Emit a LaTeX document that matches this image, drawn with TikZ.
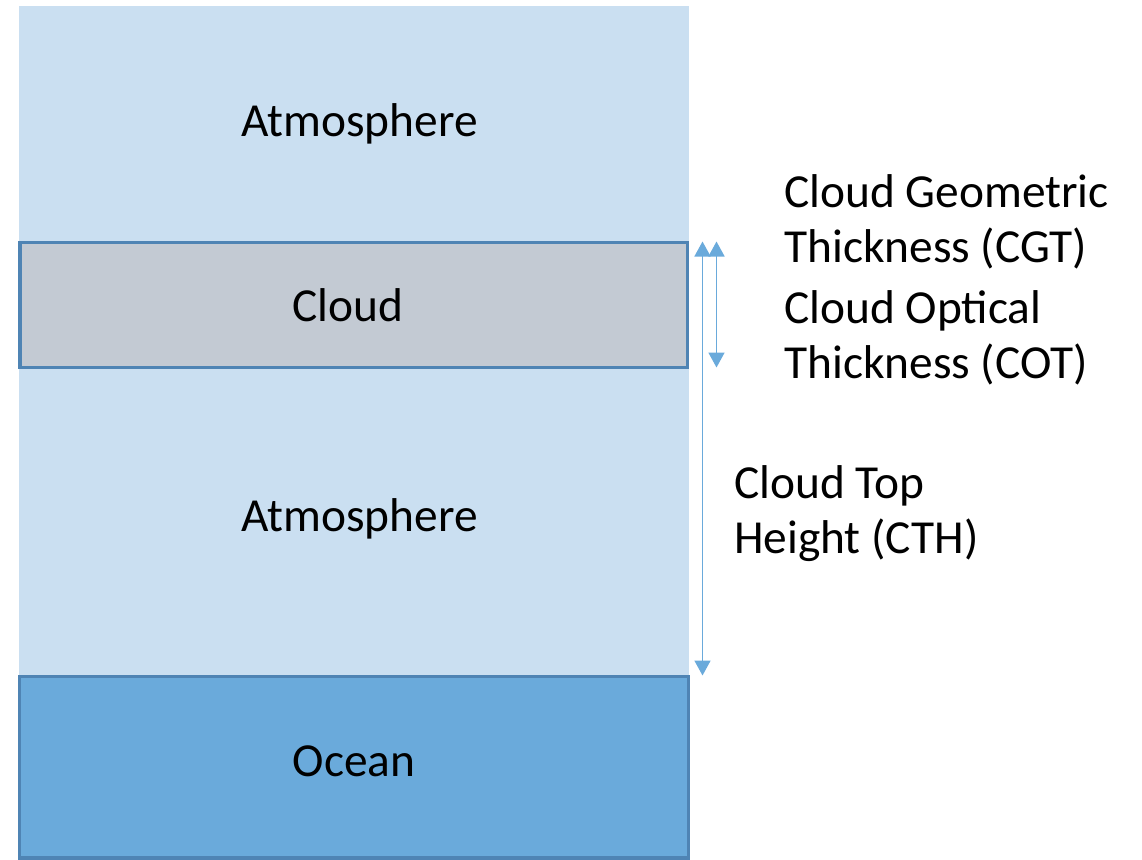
\documentclass[tikz,border=0pt]{standalone}
\usepackage{fontspec}
\setmainfont{Carlito}
\usetikzlibrary{arrows.meta}
\definecolor{atmfill}{HTML}{CADFF1}
\definecolor{cloudfill}{HTML}{C3CAD3}
\definecolor{oceanfill}{HTML}{6AAADB}
\definecolor{boxline}{HTML}{4F84B4}
\definecolor{arrowcol}{HTML}{6AAADB}
\tikzset{
  lbl/.style={font=\fontsize{47.4}{55}\selectfont, inner sep=0pt, anchor=base west, text=black},
  lblc/.style={font=\fontsize{47.4}{55}\selectfont, inner sep=0pt, anchor=base, text=black},
  layer/.style={draw=boxline, line width=3.2pt},
  dim/.style={draw=arrowcol, line width=1.7pt, {Triangle[width=16pt,length=15pt]}-{Triangle[width=16pt,length=15pt]}}
}
\begin{document}
\begin{tikzpicture}[x=1pt,y=-1pt]
\useasboundingbox (0,0) rectangle (1142,859);
% atmosphere background
\fill[atmfill] (19,6) rectangle (689,676);
% cloud layer
\draw[layer, fill=cloudfill] (20,242.5) rectangle (687.5,367.5);
% ocean
\draw[layer, fill=oceanfill] (19.5,676.5) rectangle (688.5,858);
% texts
\node[lblc] (atm1) at (359.5,136.5) {Atmosphere};
\node[lblc] (cloud) at (347.5,321) {Cloud};
\node[lblc] (atm2) at (359.5,531) {Atmosphere};
\node[lblc] (ocean) at (354,776) {Ocean};
\node[lbl] (cgt1) at (784,207) {Cloud Geometric};
\node[lbl] (cgt2) at (784,262) {Thickness (CGT)};
\node[lbl] (cot1) at (784,323) {Cloud Optical};
\node[lbl] (cot2) at (784,378) {Thickness (COT)};
\node[lbl] (cth1) at (734,498) {Cloud Top};
\node[lbl] (cth2) at (734,553) {Height (CTH)};
% dimension arrows
\coordinate (cthTop) at (702.5,241.5);
\coordinate (cthBot) at (702.5,675.5);
\coordinate (cgtTop) at (716.5,241.5);
\coordinate (cgtBot) at (716.5,367.5);
\draw[dim] (cthTop) -- (cthBot);
\draw[dim] (cgtTop) -- (cgtBot);
\end{tikzpicture}
\end{document}
